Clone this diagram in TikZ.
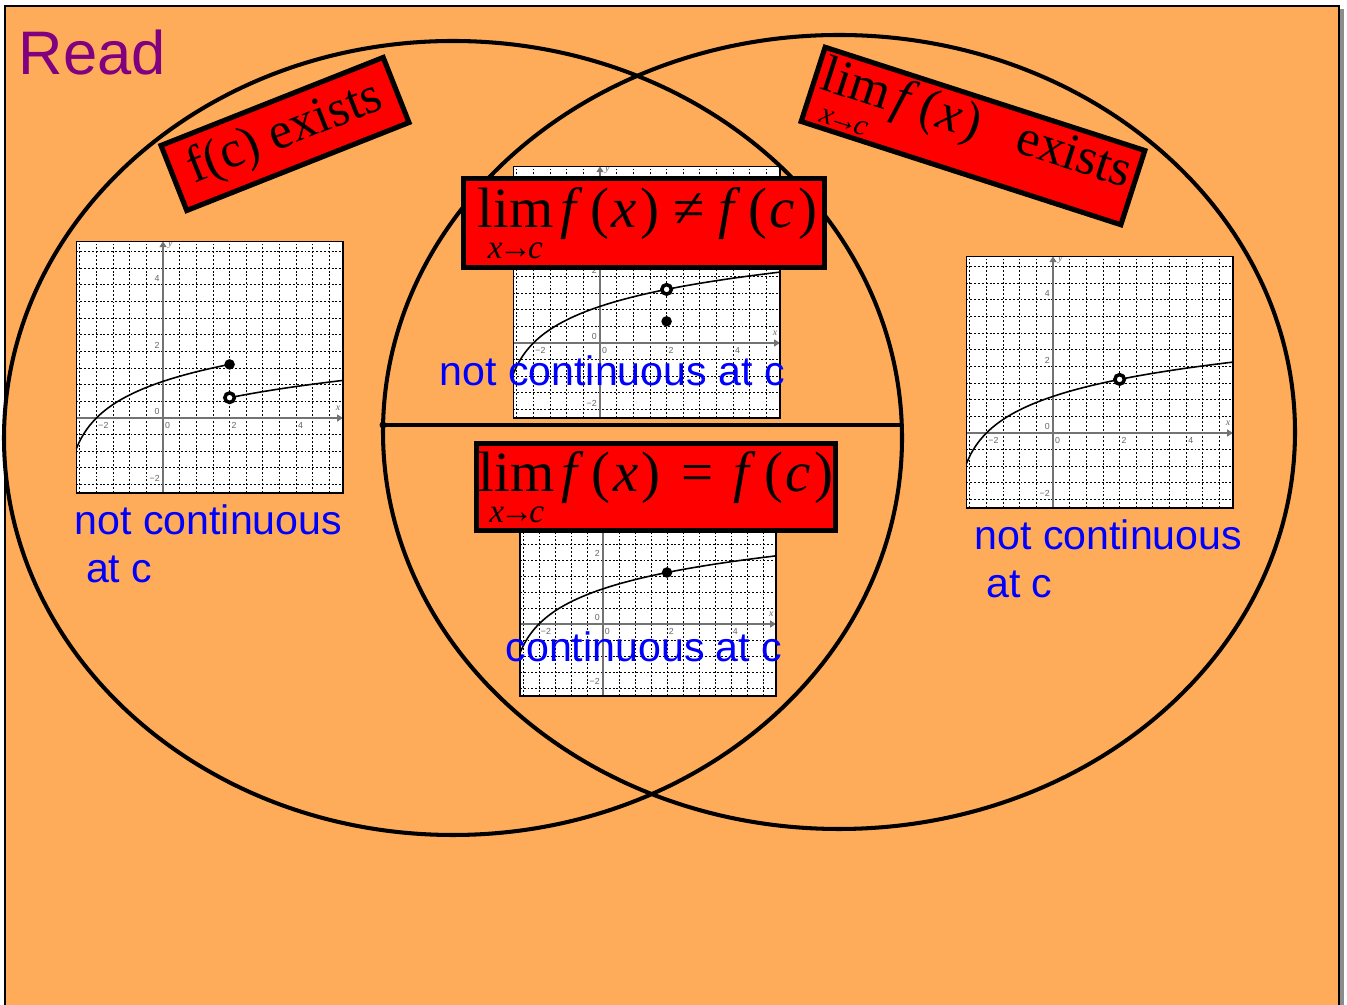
\documentclass[tikz,border=0pt]{standalone}
\usepackage{fontspec}
\setmainfont{Liberation Serif}
\setsansfont{Liberation Sans}
\usetikzlibrary{arrows.meta}
\definecolor{slide}{RGB}{255,172,90}
\definecolor{readpurple}{RGB}{128,0,128}
\tikzset{
  venn/.style={line width=1.15pt},
  redbox/.style={draw,line width=1.45pt,fill=red,inner sep=0pt,align=center},
  bluelab/.style={text=blue,inner sep=0pt,align=left,font=\sffamily\fontsize{11.7}{13.7}\selectfont},
  gridl/.style={line width=0.25pt,dash pattern=on 0.55pt off 0.55pt},
  axl/.style={draw=black!55,line width=0.3pt,-{Triangle[length=1.6pt,width=2pt]}},
  tickl/.style={text=black!60,inner sep=0pt,font=\sffamily\fontsize{2.5}{3}\selectfont},
  fcurve/.style={line width=0.45pt,smooth,samples=60},
  fdot/.style={circle,fill,inner sep=0pt,minimum size=3pt},
  odot/.style={circle,draw,fill=white,line width=1pt,inner sep=0pt,minimum size=2.7pt},
}
\newcommand{\limxc}[2]{\vtop{\baselineskip=#2\lineskiplimit=-10pt\halign{\hfil##\hfil\cr
  lim\cr{\fontsize{#1}{#1}\selectfont\itshape x\kern-.12em→\kern-.12em c}\cr}}}
\newcommand{\lnpane}[3]{%
  \begin{scope}[shift={#1},x=#2,y=#2]
    \fill[white] (-2.6,-2.25) rectangle (5.4,5.3);
    \draw[gridl] (-2.6,-2.25) grid[step=0.5] (5.4,5.3);
    \draw[axl] (-2.6,0) -- (5.4,0);
    \draw[axl] (0,-2.25) -- (0,5.3);
    \foreach \t/\lab in {-2/−2,0/0,2/2,4/4}
      \node[tickl,anchor=north west] at (\t+0.04,-0.12) {\lab};
    \foreach \t/\lab in {-2/−2,0/0,2/2,4/4}
      \node[tickl,anchor=south east] at (-0.08,\t+0.08) {\lab};
    \node[tickl,font=\rmfamily\itshape\fontsize{2.8}{3}\selectfont] at (5.26,0.3) {x};
    \node[tickl,font=\rmfamily\itshape\fontsize{2.8}{3}\selectfont] at (0.22,5.2) {y};
    #3
    \draw[line width=0.4pt] (-2.6,-2.25) rectangle (5.4,5.3);
  \end{scope}}

\begin{document}
\begin{tikzpicture}[x=0.1mm,y=-0.1mm]
  \useasboundingbox (0,0) rectangle (1347,1005);
  \fill[white] (0,0) rectangle (1347,1005);
  \fill[slide] (5,6) rectangle (1339,1005);
  \fill[black!45] (1340,9) rectangle (1344,1005);
  \draw[line width=0.8pt] (5,1005) -- (5,6) -- (1339,6) -- (1339,1005);

  \node[anchor=base west,inner sep=0pt,text=readpurple,
        font=\sffamily\fontsize{17.5}{20}\selectfont] (read) at (18,75) {Read};

  \lnpane{(163,418)}{3.33mm}{
    \draw[fcurve,domain=-2.6:2] plot (\x,{ln(\x+3)});
    \draw[fcurve,domain=2:5.4] plot (\x,{ln(\x+3)-1});
    \node[fdot] (gafill) at (2,{ln(5)}) {};
    \node[odot] (gaopen) at (2,{ln(5)-1}) {};
  }
  \lnpane{(600,343)}{3.33mm}{
    \draw[fcurve,domain=-2.6:5.4] plot (\x,{ln(\x+3)});
    \node[odot] (gbopen) at (2,{ln(5)}) {};
    \node[fdot] (gbfill) at (2,0.65) {};
  }
  \lnpane{(603,624)}{3.2mm}{
    \draw[fcurve,domain=-2.6:5.4] plot (\x,{ln(\x+3)});
    \node[fdot] (gcfill) at (2,{ln(5)}) {};
  }
  \lnpane{(1053,433)}{3.33mm}{
    \draw[fcurve,domain=-2.6:5.4] plot (\x,{ln(\x+3)});
    \node[odot] (gdopen) at (2,{ln(5)}) {};
  }

  \coordinate (lc) at (453,438);
  \coordinate (rc) at (839,432);
  \draw[venn] (lc) ellipse [x radius=449,y radius=397];
  \draw[venn] (rc) ellipse [x radius=456,y radius=397];
  \coordinate (hl) at (383,425);
  \coordinate (hr) at (902,425);
  \draw[venn] (hl) -- (hr);
  \fill (hl) circle [radius=0.35mm];

  \node[bluelab,anchor=base west] (lnc) at (74,583) {not continuous\\\hspace*{0.278em}at c};
  \node[bluelab,anchor=base west] (rnc) at (974,598) {not continuous\\\hspace*{0.278em}at c};
  \node[bluelab,anchor=base west] (mnc) at (439,386) {not continuous at c};
  \node[bluelab,anchor=base west] (mc) at (505,662) {continuous at c};

  \node[redbox,rotate=21.6,minimum width=23.9mm,minimum height=7mm,
        font=\rmfamily\fontsize{14.7}{17}\selectfont] (fcbox) at (285,134) {f(c) exists};
  \node[redbox,rotate=-17.9,minimum width=33.6mm,minimum height=7.8mm,
        font=\rmfamily\fontsize{14.8}{17}\selectfont] (limbox) at (973,136)
        {\limxc{8.5}{9pt}\kern0.12em\textit{f}\kern0.12em(\kern0.04em\textit{x}\kern0.06em)\kern0.75em exists};
  \node[redbox,minimum width=36.1mm,minimum height=8.85mm,
        font=\rmfamily\fontsize{16.2}{18}\selectfont] (neqbox) at (644,223)
        {\kern0.12em\limxc{9.5}{9pt}\kern0.12em\textit{f}\kern0.14em(\kern0.04em\textit{x}\kern0.06em)\kern0.24em≠\kern0.24em\textit{f}\kern0.14em(\kern0.04em\textit{c}\kern0.06em)};
  \node[redbox,minimum width=35.9mm,minimum height=8.7mm,
        font=\rmfamily\fontsize{16.2}{18}\selectfont] (eqbox) at (656,487)
        {\limxc{9.5}{9pt}\kern0.12em\textit{f}\kern0.14em(\kern0.04em\textit{x}\kern0.06em)\kern0.36em=\kern0.36em\textit{f}\kern0.14em(\kern0.04em\textit{c}\kern0.06em)};
\end{tikzpicture}
\end{document}
